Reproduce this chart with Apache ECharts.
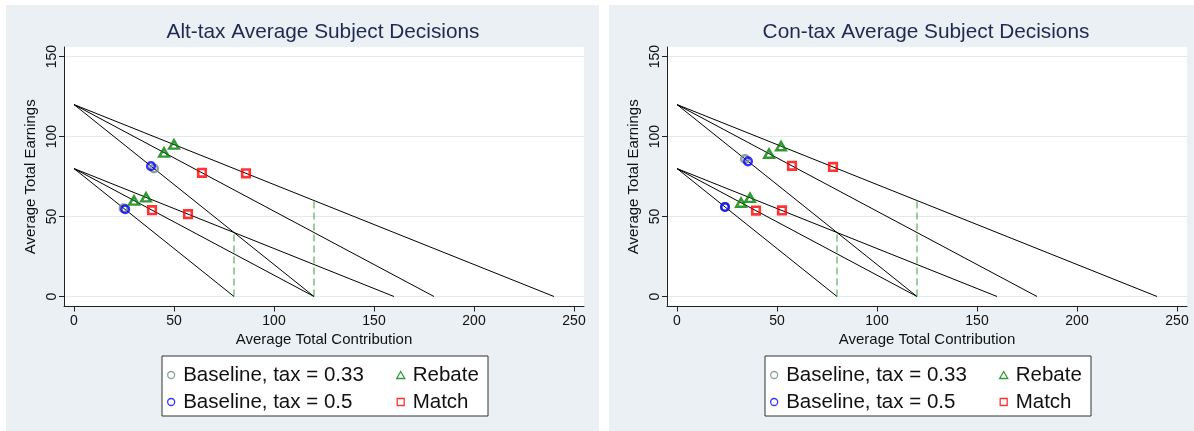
<!DOCTYPE html>
<html>
<head>
<meta charset="utf-8">
<script src="https://cdn.jsdelivr.net/npm/echarts@6/dist/echarts.min.js"></script>
<style>
  html, body { margin: 0; padding: 0; background: #ffffff; width: 1194px; height: 431px; overflow: hidden; }
  .panel { position: absolute; top: 5px; width: 593px; height: 426px; }
  #alt { left: 6px; }
  #con { left: 609px; }
</style>
</head>
<body>
<div id="alt" class="panel"></div>
<div id="con" class="panel"></div>
<script>
// Axis ticks
const xTicks = [0, 50, 100, 150, 200, 250];
const yTicks = [0, 50, 100, 150];

// Budget lines: [start, end] for each endowment / price combination
const budgetLines = [
  [[0, 120], [120, 0]],
  [[0, 120], [180, 0]],
  [[0, 120], [240, 0]],
  [[0, 80], [80, 0]],
  [[0, 80], [120, 0]],
  [[0, 80], [160, 0]]
];
// Dashed reference segments
const guideLines = [
  [[80, 0], [80, 40]],
  [[120, 0], [120, 60]]
];

// Alt-tax treatment: average [contribution, earnings]
const altBase33 = [[40, 80], [24.8, 55.2]];
const altBase50 = [[38.5, 81.5], [25.6, 54.6]];
const altRebate = [[50, 95], [45, 90], [30, 60], [36, 62]];
const altMatch = [[64, 77.3], [86, 77], [39, 54], [57, 51.5]];

// Con-tax treatment
const conBase33 = [[34, 86], [24, 56]];
const conBase50 = [[35.5, 84.5], [24, 56]];
const conRebate = [[52, 94], [46, 89.3], [32, 58.7], [36.5, 61.7]];
const conMatch = [[57.5, 81.7], [78, 81], [39.5, 53.7], [52.5, 53.8]];

const FONT = '"Liberation Sans", Arial, Helvetica, sans-serif';
const GRAY = '#6f8a83';
const BLUE = '#0000ff';
const GREEN = '#008000';
const RED = '#ff0000';

// Legend icons as paths so they keep their aspect ratio inside a wide icon box
const ICON_TRI = 'path://M0,-1L0.866,0.5L-0.866,0.5Z';
const ICON_SQ = 'path://M0,0L1,0L1,1L0,1Z';

function hollow(color, bw) {
  return { color: 'rgba(0,0,0,0)', borderColor: color, borderWidth: bw };
}

function buildOption(title, base33, base50, rebate, match) {
  const series = [];
  budgetLines.forEach(function (seg) {
    series.push({
      type: 'line', data: seg, symbol: 'none', silent: true, animation: false,
      lineStyle: { color: '#000000', width: 1 }, z: 2
    });
  });
  guideLines.forEach(function (seg) {
    series.push({
      type: 'line', data: seg, symbol: 'none', silent: true, animation: false,
      lineStyle: { color: '#3c9a3c', width: 1, type: [7, 4] }, z: 2
    });
  });
  series.push(
    { name: 'Baseline, tax = 0.33', type: 'scatter', data: base33, symbol: 'circle', symbolSize: 7.6, itemStyle: hollow(GRAY, 2.5), z: 3, animation: false },
    { name: 'Baseline, tax = 0.5', type: 'scatter', data: base50, symbol: 'circle', symbolSize: 7.6, itemStyle: hollow(BLUE, 2.5), z: 4, animation: false },
    { name: 'Rebate', type: 'scatter', data: rebate, symbol: 'triangle', symbolSize: [9.5, 8.2], itemStyle: hollow(GREEN, 2.5), z: 5, animation: false },
    { name: 'Match', type: 'scatter', data: match, symbol: 'rect', symbolSize: 7.6, itemStyle: hollow(RED, 2.6), z: 6, animation: false }
  );

  const legendCommon = {
    orient: 'vertical', selectedMode: false, itemWidth: 14, itemHeight: 7, itemGap: 6,
    symbolKeepAspect: true,
    textStyle: { fontFamily: FONT, fontSize: 20.5, color: '#111', lineHeight: 20.7 }
  };

  return {
    backgroundColor: '#eaf0f3',
    animation: false,
    title: {
      text: title, left: 312, top: 12, textAlign: 'center',
      textStyle: { fontFamily: FONT, fontSize: 20.8, fontWeight: 'normal', color: '#1e2a52' }
    },
    grid: { left: 58, top: 42, width: 520, height: 259.5, show: true, backgroundColor: '#ffffff', borderWidth: 0 },
    xAxis: {
      type: 'value', min: -5, max: 255,
      name: 'Average Total Contribution', nameLocation: 'middle', nameGap: 26, nameMoveOverlap: false,
      nameTextStyle: { fontFamily: FONT, fontSize: 15, color: '#111' },
      axisLine: { show: true, onZero: false, lineStyle: { color: '#222', width: 1 } },
      axisTick: { show: true, length: 5, customValues: xTicks, lineStyle: { color: '#222' } },
      axisLabel: { customValues: xTicks, margin: 8, fontFamily: FONT, fontSize: 14, color: '#111' },
      splitLine: { show: false }
    },
    yAxis: {
      type: 'value', min: -6.25, max: 156,
      name: 'Average Total Earnings', nameLocation: 'middle', nameGap: 26, nameRotate: 90, nameMoveOverlap: false,
      nameTextStyle: { fontFamily: FONT, fontSize: 15, color: '#111' },
      axisLine: { show: true, onZero: false, lineStyle: { color: '#222', width: 1 } },
      axisTick: { show: true, length: 5, customValues: yTicks, lineStyle: { color: '#222' } },
      axisLabel: { customValues: yTicks, rotate: 90, margin: 5, fontFamily: FONT, fontSize: 14, color: '#111' },
      splitLine: { show: true, lineStyle: { color: '#e2eaee', width: 1 } }
    },
    graphic: [{
      type: 'rect', left: 155.5, top: 350.5, z: 0,
      shape: { width: 326, height: 60 },
      style: { fill: '#ffffff', stroke: '#333333', lineWidth: 1 }
    }],
    legend: [
      Object.assign({}, legendCommon, {
        left: 156, top: 354.5,
        data: [
          { name: 'Baseline, tax = 0.33', icon: 'circle', itemStyle: hollow(GRAY, 1.3) },
          { name: 'Baseline, tax = 0.5', icon: 'circle', itemStyle: hollow(BLUE, 1.3) }
        ]
      }),
      Object.assign({}, legendCommon, {
        left: 385, top: 354.5,
        data: [
          { name: 'Rebate', icon: ICON_TRI, itemStyle: hollow(GREEN, 1.3) },
          { name: 'Match', icon: ICON_SQ, itemStyle: hollow(RED, 1.3) }
        ]
      })
    ],
    series: series
  };
}

echarts.init(document.getElementById('alt'), null, { renderer: 'canvas' })
  .setOption(buildOption('Alt-tax Average Subject Decisions', altBase33, altBase50, altRebate, altMatch));
echarts.init(document.getElementById('con'), null, { renderer: 'canvas' })
  .setOption(buildOption('Con-tax Average Subject Decisions', conBase33, conBase50, conRebate, conMatch));
</script>
</body>
</html>
